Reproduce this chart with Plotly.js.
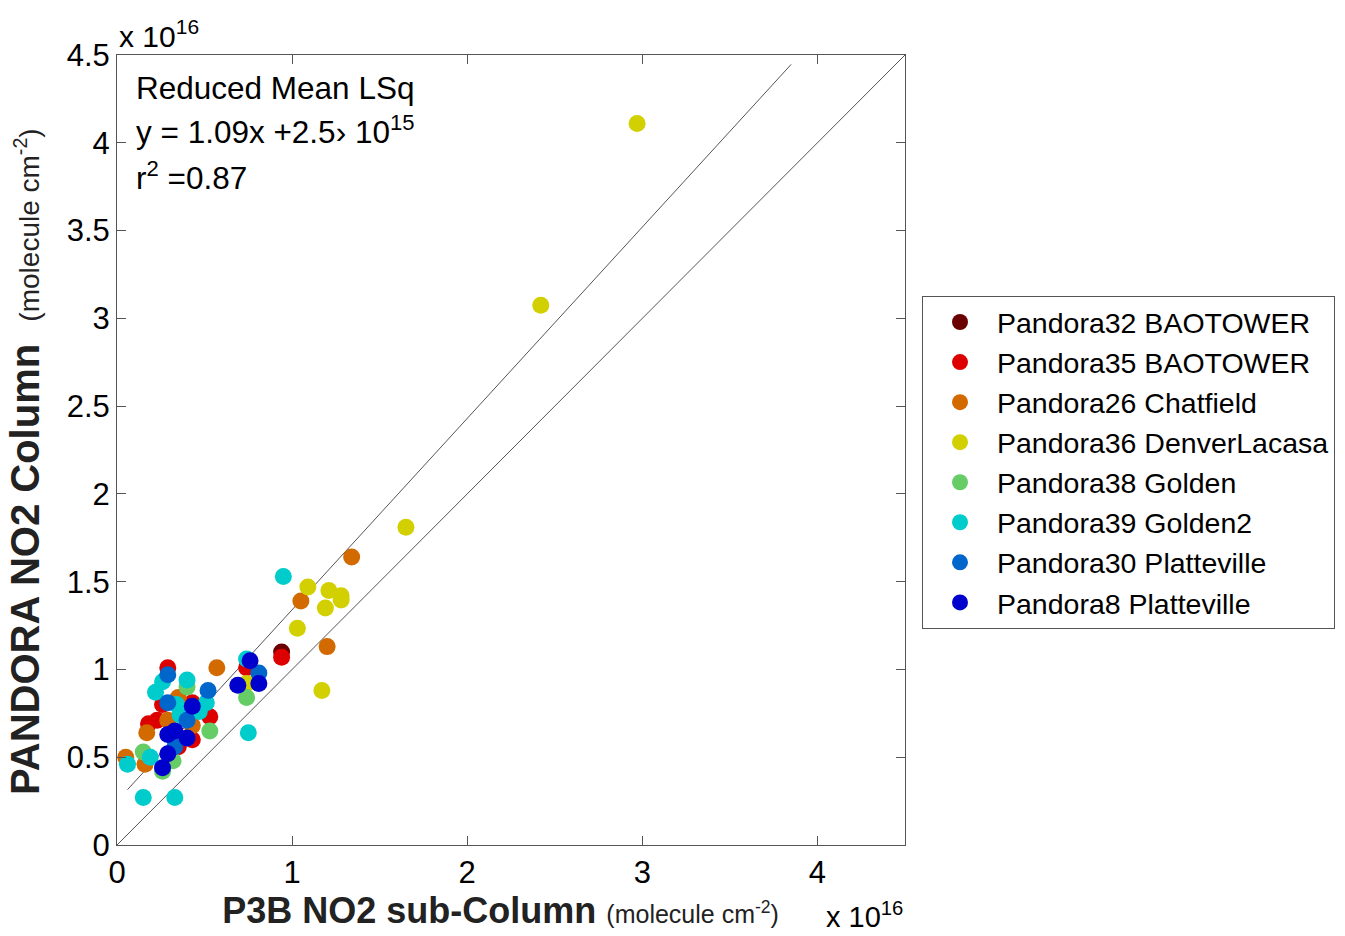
<!DOCTYPE html>
<html>
<head>
<meta charset="utf-8">
<script src="https://cdn.plot.ly/plotly-3.0.1.min.js"></script>
<style>html,body{margin:0;padding:0;background:#fff;} #chart{width:1345px;height:936px;}</style>
</head>
<body>
<div id="chart"></div>
<script>
// Values in units of 1e16 molecule cm^-2
const seriesNames = ["Pandora32 BAOTOWER","Pandora35 BAOTOWER","Pandora26 Chatfield","Pandora36 DenverLacasa","Pandora38 Golden","Pandora39 Golden2","Pandora30 Platteville","Pandora8 Platteville"];
const seriesColors = ["#6b0000","#dd0000","#d26a00","#d2d000","#66cc66","#00cccc","#0066cc","#0000cc"];

const p32_x = [0.94];
const p32_y = [1.10];

const p35_x = [0.94, 0.74, 0.29, 0.26, 0.23, 0.53, 0.43, 0.43, 0.18, 0.35];
const p35_y = [1.07, 1.01, 1.01, 0.80, 0.71, 0.73, 0.60, 0.81, 0.69, 0.56];

const p26_x = [1.34, 1.05, 1.20, 0.57, 0.35, 0.17, 0.05, 0.16, 0.29, 0.43];
const p26_y = [1.64, 1.39, 1.13, 1.01, 0.84, 0.64, 0.50, 0.46, 0.71, 0.68];

const p36_x = [2.97, 2.42, 1.65, 1.09, 1.21, 1.28, 1.19, 1.28, 1.03, 1.17, 0.74];
const p36_y = [4.11, 3.075, 1.81, 1.47, 1.45, 1.42, 1.35, 1.395, 1.235, 0.88, 0.92];

const p38_x = [0.74, 0.53, 0.40, 0.15, 0.32, 0.26];
const p38_y = [0.84, 0.65, 0.90, 0.53, 0.48, 0.42];

const p39_x = [0.95, 0.75, 0.15, 0.33, 0.06, 0.74, 0.40, 0.22, 0.26, 0.51, 0.34, 0.36, 0.19, 0.47];
const p39_y = [1.53, 0.64, 0.27, 0.27, 0.46, 1.06, 0.94, 0.87, 0.93, 0.81, 0.80, 0.74, 0.50, 0.76];

const p30_x = [0.29, 0.29, 0.52, 0.81, 0.40, 0.33];
const p30_y = [0.97, 0.81, 0.88, 0.98, 0.71, 0.56];

const p8_x = [0.76, 0.69, 0.81, 0.43, 0.33, 0.29, 0.40, 0.29, 0.26];
const p8_y = [1.05, 0.91, 0.92, 0.79, 0.65, 0.63, 0.61, 0.52, 0.44];

// Fit: Reduced Mean LSq  y = 1.09x + 0.25 (x1e16)
const fitSlope = 1.09;
const fitIntercept = 0.25;
const fitLineX = [0.06, 3.85];
const oneToOneX = [0, 4.5];

const xs = [p32_x,p35_x,p26_x,p36_x,p38_x,p39_x,p30_x,p8_x];
const ys = [p32_y,p35_y,p26_y,p36_y,p38_y,p39_y,p30_y,p8_y];

const traces = [];
traces.push({x: oneToOneX, y: oneToOneX.slice(), mode:'lines', line:{color:'#555', width:1}, showlegend:false, hoverinfo:'skip'});
traces.push({x: fitLineX, y: fitLineX.map(v=>fitSlope*v+fitIntercept), mode:'lines', line:{color:'#555', width:1}, showlegend:false, hoverinfo:'skip'});
for (let i=0;i<seriesNames.length;i++){
  traces.push({x: xs[i], y: ys[i], mode:'markers', type:'scatter', name: seriesNames[i],
    marker:{color: seriesColors[i], size:17, line:{width:0}}});
}

const font = "'Liberation Sans', Arial, Helvetica, sans-serif";
const layout = {
  width:1345, height:936,
  margin:{l:117, r:440, t:55, b:91, autoexpand:false},
  paper_bgcolor:'#fff', plot_bgcolor:'#fff',
  font:{family:font, color:'#000'},
  showlegend:true,
  legend:{xref:'container', yref:'container', x:922/1345, xanchor:'left', y:1-296/936, yanchor:'top', bordercolor:'#555', borderwidth:1,
    font:{size:28.5, family:font, color:'#000'}, traceorder:'normal', itemwidth:64},
  xaxis:{range:[0,4.5], dtick:1, tick0:0, ticks:'inside', ticklen:9, tickcolor:'#555', showline:true, linecolor:'#555', linewidth:1,
    mirror:'allticks', showgrid:false, zeroline:false, tickfont:{size:31, family:font},
    title:{text:"<b>P3B NO2 sub-Column</b> <span style='font-size:25px'>(molecule cm<sup>-2</sup>)&nbsp;&nbsp;&nbsp;</span>", font:{size:36, family:font, color:'#222'}, standoff:8}},
  yaxis:{range:[0,4.5], dtick:0.5, tick0:0, ticks:'inside', ticklen:9, tickcolor:'#555', showline:true, linecolor:'#555', linewidth:1,
    mirror:'allticks', showgrid:false, zeroline:false, tickfont:{size:31, family:font},
    title:{text:"<b>PANDORA NO2 Column</b>  <span style='font-size:28px'>(molecule cm<sup>-2</sup>)&nbsp;&nbsp;&nbsp;</span>", font:{size:40, family:font, color:'#222'}, standoff:14}},
  annotations:[
    {xref:'paper', yref:'paper', x:0, y:1, xanchor:'left', yanchor:'bottom', text:'x 10<sup>16</sup>', showarrow:false, font:{size:30, family:font}, yshift:0},
    {xref:'paper', yref:'paper', x:1, y:0, xanchor:'right', yanchor:'top', text:'x 10<sup>16</sup>', showarrow:false, font:{size:29, family:font}, yshift:-50},
    {xref:'paper', yref:'paper', x:0.022, y:(845-88)/790, xanchor:'left', yanchor:'middle', showarrow:false, text:'Reduced Mean LSq', font:{size:31.5, family:font}},
    {xref:'paper', yref:'paper', x:0.022, y:(845-130)/790, xanchor:'left', yanchor:'middle', showarrow:false, text:'y = 1.09x +2.5› 10<sup>15</sup>', font:{size:31.5, family:font}},
    {xref:'paper', yref:'paper', x:0.022, y:(845-176)/790, xanchor:'left', yanchor:'middle', showarrow:false, text:'r<sup>2</sup> =0.87', font:{size:31.5, family:font}}
  ]
};
Plotly.newPlot('chart', traces, layout, {displayModeBar:false, staticPlot:true});
</script>
</body>
</html>
